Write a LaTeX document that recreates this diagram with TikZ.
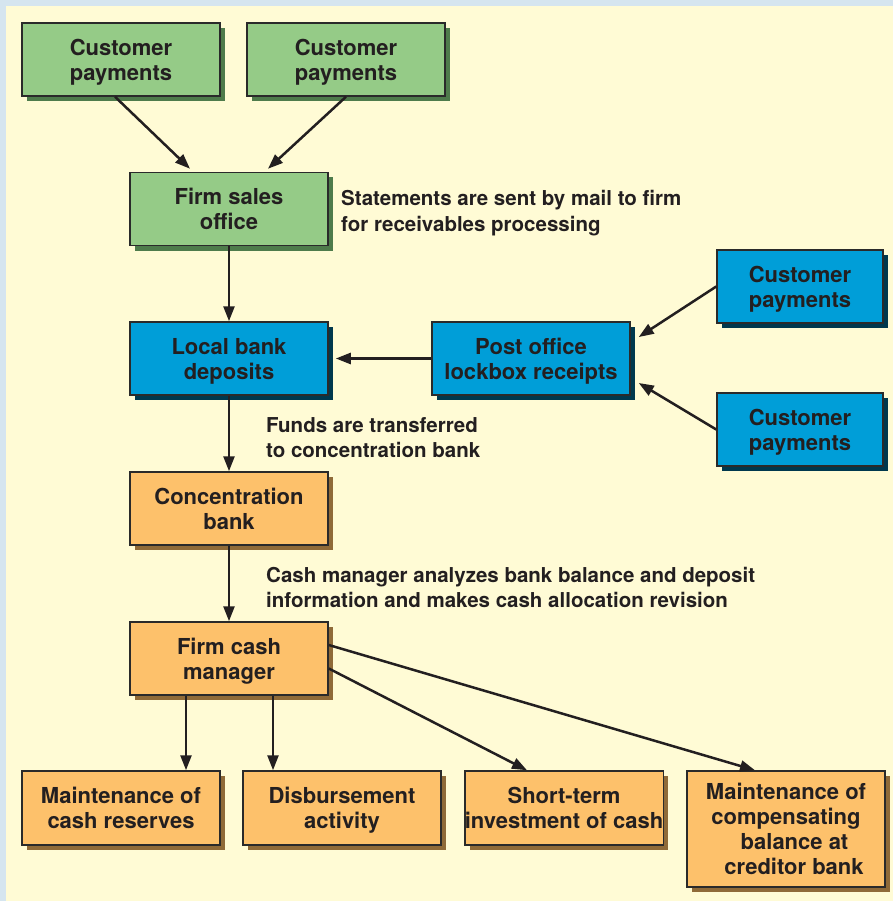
\documentclass[tikz,border=0pt]{standalone}
\usepackage{fontspec}
\setmainfont{TeX Gyre Heros}
\usetikzlibrary{shadows,arrows.meta,calc}
\definecolor{paper}{HTML}{FFFBD5}
\definecolor{rim}{HTML}{D5E5EF}
\definecolor{edge}{HTML}{2A2A2A}
\definecolor{greenfill}{HTML}{95CB87}
\definecolor{greenshade}{HTML}{4E7B4B}
\definecolor{bluefill}{HTML}{009ED8}
\definecolor{blueshade}{HTML}{00384D}
\definecolor{orangefill}{HTML}{FDC16B}
\definecolor{orangeshade}{HTML}{8F6A38}
\definecolor{ink}{HTML}{231F20}
\begin{document}
\begin{tikzpicture}[x=1pt,y=-1pt,
    box/.style={draw=edge,line width=1.5pt,minimum width=198pt,minimum height=73pt,
      inner sep=0pt,text depth=0pt,align=center,text=ink,font=\fontsize{22}{25}\selectfont\bfseries},
    greenbox/.style={box,fill=greenfill,drop shadow={shadow xshift=5pt,shadow yshift=-5pt,fill=greenshade,opacity=1}},
    bluebox/.style={box,fill=bluefill,drop shadow={shadow xshift=5pt,shadow yshift=-5pt,fill=blueshade,opacity=1}},
    orangebox/.style={box,fill=orangefill,drop shadow={shadow xshift=5pt,shadow yshift=-5pt,fill=orangeshade,opacity=1}},
    arr/.style={draw=ink,line width=2.5pt,-{Triangle[length=15pt,width=11pt]}},
    note/.style={anchor=base west,align=left,inner sep=0pt,text=ink,font=\fontsize{20.5}{25}\selectfont\bfseries}]
    % fondo: 893 x 901 px, 1 px = 1 pt
    \useasboundingbox (0,0) rectangle (893,901);
    \fill[rim]   (0,0) rectangle (893,901);
    \fill[paper] (6,6) rectangle (893,901);

    % caixas
    \node[greenbox] (payA) at (121,59.5) {Customer\\payments};
    \node[greenbox] (payB) at (346,59.5) {Customer\\payments};
    \node[greenbox] (sales) at (229,209) {Firm sales\\office};
    \node[bluebox] (local) at (229,358.5) {Local bank\\deposits};
    \node[bluebox] (lockbox) at (531,358.5) {Post office\\lockbox receipts};
    \node[bluebox,minimum width=166pt] (payC) at (800,286.5) {Customer\\payments};
    \node[bluebox,minimum width=166pt] (payD) at (800,429.5) {Customer\\payments};
    \node[orangebox] (conc) at (229,508.5) {Concentration\\bank};
    \node[orangebox] (manager) at (229,658.5) {Firm cash\\manager};
    \foreach \n/\x/\t in {reserves/121/{Maintenance of\\cash reserves},
                          disburse/342/{Disbursement\\activity},
                          invest/564/{Short-term\\investment of cash}}{
        \node[orangebox,minimum height=74pt] (\n) at (\x,808) {\t};
    }
    \node[orangebox,minimum height=116pt] (comp) at (786,829)
        {Maintenance of\\compensating\\\hspace*{17pt}balance at\\\hspace*{16pt}creditor bank};

    % notas (base = ultima linha)
    \node[note] (noteA) at (341,231) {Statements are sent by mail to firm\\for receivables processing};
    \node[note] (noteB) at (266,457) {Funds are transferred\\to concentration bank};
    \node[note] (noteC) at (266,607) {Cash manager analyzes bank balance and deposit\\information and makes cash allocation revision};

    % setas
    \draw[arr] ([xshift=-6pt]payA.south) -- ([shift={(-39pt,3pt)}]sales.north);
    \draw[arr] (payB.south) -- ([shift={(39pt,3pt)}]sales.north);
    \draw[arr] (sales) -- (local);
    \draw[arr] (lockbox.west) -- ([xshift=7pt]local.east);
    \draw[arr] (payC.west) -- ([shift={(8pt,21.5pt)}]lockbox.east);
    \draw[arr] (payD.west) -- ([shift={(8pt,-24.5pt)}]lockbox.east);
    \draw[arr] (local) -- (conc);
    \draw[arr] (conc) -- (manager);
    \draw[arr] ([xshift=-43pt]manager.south) -- ([xshift=-43pt]manager.south |- reserves.north);
    \draw[arr] ([xshift=44pt]manager.south) -- ([xshift=44pt]manager.south |- disburse.north);
    \draw[arr] ([yshift=-10pt]manager.east) -- ([xshift=-37pt]invest.north);
    \draw[arr] ([yshift=13.5pt]manager.east) -- ([xshift=-31pt]comp.north);
\end{tikzpicture}
\end{document}
